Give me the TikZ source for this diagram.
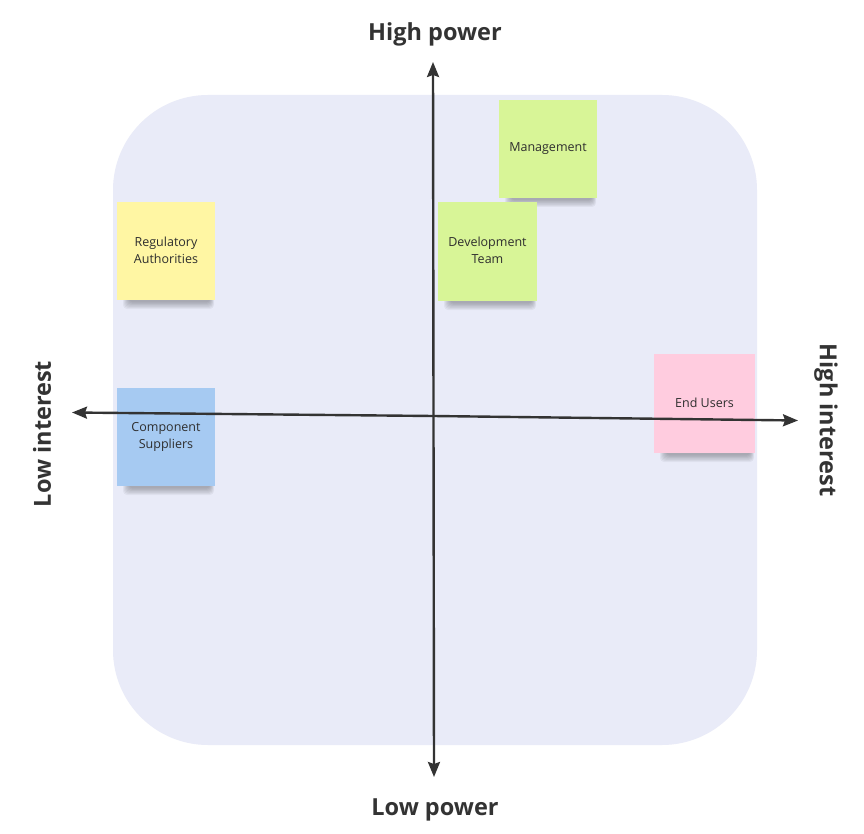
\documentclass[tikz,border=0pt]{standalone}
\usepackage{fontspec}
\setmainfont{Open Sans}
\usetikzlibrary{arrows.meta}
\definecolor{bgpanel}{HTML}{E9EBF8}
\definecolor{axisgray}{HTML}{333333}
\definecolor{noteyellow}{HTML}{FFF6A3}
\definecolor{notegreen}{HTML}{D8F597}
\definecolor{noteblue}{HTML}{A6CAF2}
\definecolor{notepink}{HTML}{FFCCDF}
\definecolor{textgray}{HTML}{2E2E2E}
\tikzset{
  sticky/.style={minimum width=98pt, minimum height=98pt, inner sep=2pt, align=center,
    font=\fontsize{12.5}{17}\selectfont, text=textgray, draw=none},
  axislabel/.style={font=\bfseries\fontsize{23.5}{26}\selectfont, text=axisgray},
  axisline/.style={draw=axisgray, line width=2.4pt, -{Stealth[length=15pt,width=12pt,inset=2pt]}},
  shadowlayer/.style={fill=black, opacity=0.045, rounded corners=4pt},
}
\newcommand{\notewithshadow}[5]{%
  % #1 left, #2 top, #3 right, #4 bottom, #5 colour
  \foreach \k in {0,1,2,3,4,5,6} {
    \fill[shadowlayer] (#1+6+\k,#4-4) rectangle (#3-1-\k*0.6,#4+9-\k*1.1);
  }
  \fill[#5] (#1,#2) rectangle (#3,#4);
}
\begin{document}
\begin{tikzpicture}[x=1pt,y=-1pt]
\useasboundingbox (0,0) rectangle (864,834);
\fill[white] (0,0) rectangle (864,834);
% background panel
\fill[bgpanel, rounded corners=95pt] (113,95) rectangle (757,745);

% sticky notes
\notewithshadow{117}{202}{215}{300}{noteyellow}
\node[sticky] (reg) at (166,250.5) {Regulatory\\Authorities};

\notewithshadow{499}{100}{597}{198}{notegreen}
\node[sticky] (mgmt) at (548,148.5) {Management};

\notewithshadow{438}{202}{537}{301}{notegreen}
\node[sticky] (dev) at (487.5,250.5) {Development\\Team};

\notewithshadow{117}{388}{215}{486}{noteblue}
\node[sticky] (comp) at (166,436.5) {Component\\Suppliers};

\notewithshadow{654}{354}{755}{453}{notepink}
\node[sticky] (end) at (704.5,402.5) {End Users};

% axes
\coordinate (vtop) at (433,62);
\coordinate (vbot) at (434,777);
\coordinate (hleft) at (72,412.5);
\coordinate (hright) at (798,420.5);
\coordinate (centre) at (433.5,416);
\draw[axisline] (centre) -- (vtop);
\draw[axisline] (centre) -- (vbot);
\draw[axisline] (centre) -- (hleft);
\draw[axisline] (centre) -- (hright);

% axis labels
\node[axislabel] (highpower) at (435,34) {High power};
\node[axislabel] (lowpower) at (435,810) {Low power};
\node[axislabel, rotate=90] (lowinterest) at (42,434) {Low interest};
\node[axislabel, rotate=-90] (highinterest) at (826,420) {High interest};
\end{tikzpicture}
\end{document}
